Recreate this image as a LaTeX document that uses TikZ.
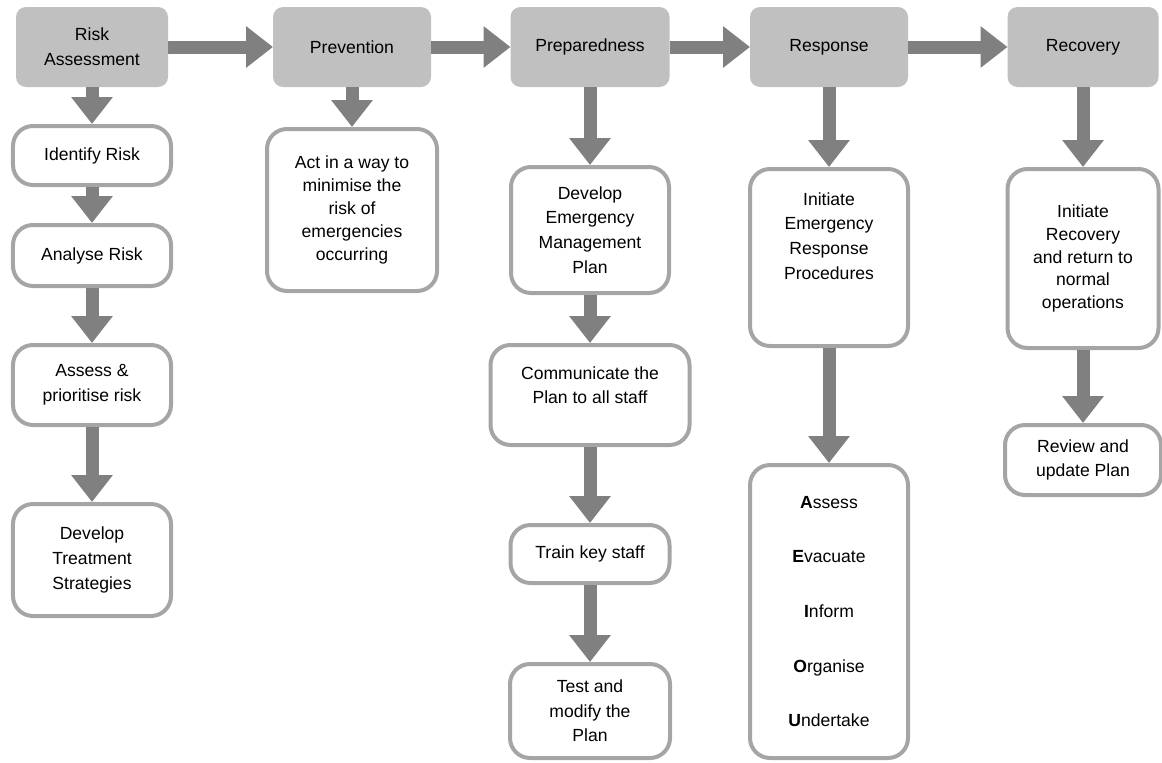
\documentclass[tikz,border=0pt]{standalone}
\usepackage{fontspec}
\setmainfont{Liberation Sans}
\definecolor{phasegray}{RGB}{192,192,192}
\definecolor{taskline}{RGB}{165,165,165}
\definecolor{flowgray}{RGB}{128,128,128}
\usepackage{tikz}
\usetikzlibrary{arrows.meta,positioning}
\tikzset{
  phase/.style={rectangle,rounded corners=0.2cm,fill=phasegray,outer sep=0pt,
                minimum width=#1,minimum height=1.6cm,align=center,
                font=\fontsize{10pt}{14pt}\selectfont},
  phase/.default=3.1cm,
  task/.style={rectangle,rounded corners=0.4cm,draw=taskline,line width=0.08cm,
               fill=white,minimum width=#1,align=center,
               font=\fontsize{10pt}{14pt}\selectfont},
  task/.default=3.16cm,
  flow/.style={draw=flowgray,line width=0.26cm,
               -{Triangle[width=0.8cm,length=0.54cm]}},
}

\begin{document}
\begin{tikzpicture}
  \useasboundingbox (0,0) rectangle (23.24,-15.24);

  % --- phases ---
  \node[phase=3.04cm] (ra) at (1.84,-0.94) {Risk\\Assessment};
  \node[phase=3.16cm, right=2.10cm of ra] (prev) {Prevention};
  \node[phase=3.18cm, right=1.59cm of prev] (prep) {Preparedness};
  \node[phase=3.16cm, right=1.61cm of prep] (resp) {Response};
  \node[phase=3.02cm, right=1.99cm of resp] (rec) {Recovery};

  \draw[flow] (ra.east) -- (prev.west);
  \draw[flow] (prev.east) -- (prep.west);
  \draw[flow] (prep.east) -- (resp.west);
  \draw[flow] (resp.east) -- (rec.west);

  % --- risk assessment ---
  \node[task, minimum height=1.18cm, below=0.74cm of ra] (idf) {Identify Risk};
  \node[task, minimum height=1.22cm, below=0.72cm of idf] (ana) {Analyse Risk};
  \node[task, minimum height=1.60cm, below=1.10cm of ana] (asp)
    {Assess \&\\prioritise risk};
  \node[task, minimum height=2.24cm, below=1.50cm of asp] (dts)
    {Develop\\Treatment\\Strategies};

  \draw[flow] (ra) -- (idf);
  \draw[flow] (idf) -- (ana);
  \draw[flow] (ana) -- (asp);
  \draw[flow] (asp) -- (dts);

  % --- prevention ---
  \node[task=3.40cm, minimum height=3.24cm, below=0.80cm of prev,
        font=\fontsize{10pt}{13pt}\selectfont] (act)
    {Act in a way to\\minimise the\\risk of\\emergencies\\occurring};

  \draw[flow] (prev) -- (act);

  % --- preparedness ---
  \node[task, minimum height=2.52cm, below=1.56cm of prep] (demp)
    {Develop\\Emergency\\Management\\Plan};
  \node[task=3.98cm, minimum height=2.00cm, text depth=0.4cm,
        below=0.96cm of demp] (comm) {Communicate the\\Plan to all staff};
  \node[task=3.18cm, minimum height=1.16cm, below=1.52cm of comm] (trn)
    {Train key staff};
  \node[task=3.20cm, minimum height=1.88cm, below=1.54cm of trn] (tst)
    {Test and\\modify the\\Plan};

  \draw[flow] (prep) -- (demp);
  \draw[flow] (demp) -- (comm);
  \draw[flow] (comm) -- (trn);
  \draw[flow] (trn) -- (tst);

  % --- response ---
  \node[task, minimum height=3.54cm, text depth=0.87cm, below=1.60cm of resp] (ier)
    {Initiate\\Emergency\\Response\\Procedures};
  \node[task, minimum height=5.86cm, below=2.30cm of ier] (aeiou)
    {\textbf{A}ssess\\[0.6cm]\textbf{E}vacuate\\[0.6cm]\textbf{I}nform\\[0.6cm]%
     \textbf{O}rganise\\[0.6cm]\textbf{U}ndertake};

  \draw[flow] (resp) -- (ier);
  \draw[flow] (ier) -- (aeiou);

  % --- recovery ---
  \node[task=3.02cm, minimum height=3.58cm, below=1.60cm of rec,
        font=\fontsize{10pt}{13pt}\selectfont] (irec)
    {Initiate\\Recovery\\and return to\\normal\\operations};
  \node[task=3.12cm, minimum height=1.40cm, below=1.46cm of irec] (rev)
    {Review and\\update Plan};

  \draw[flow] (rec) -- (irec);
  \draw[flow] (irec) -- (rev);
\end{tikzpicture}
\end{document}
